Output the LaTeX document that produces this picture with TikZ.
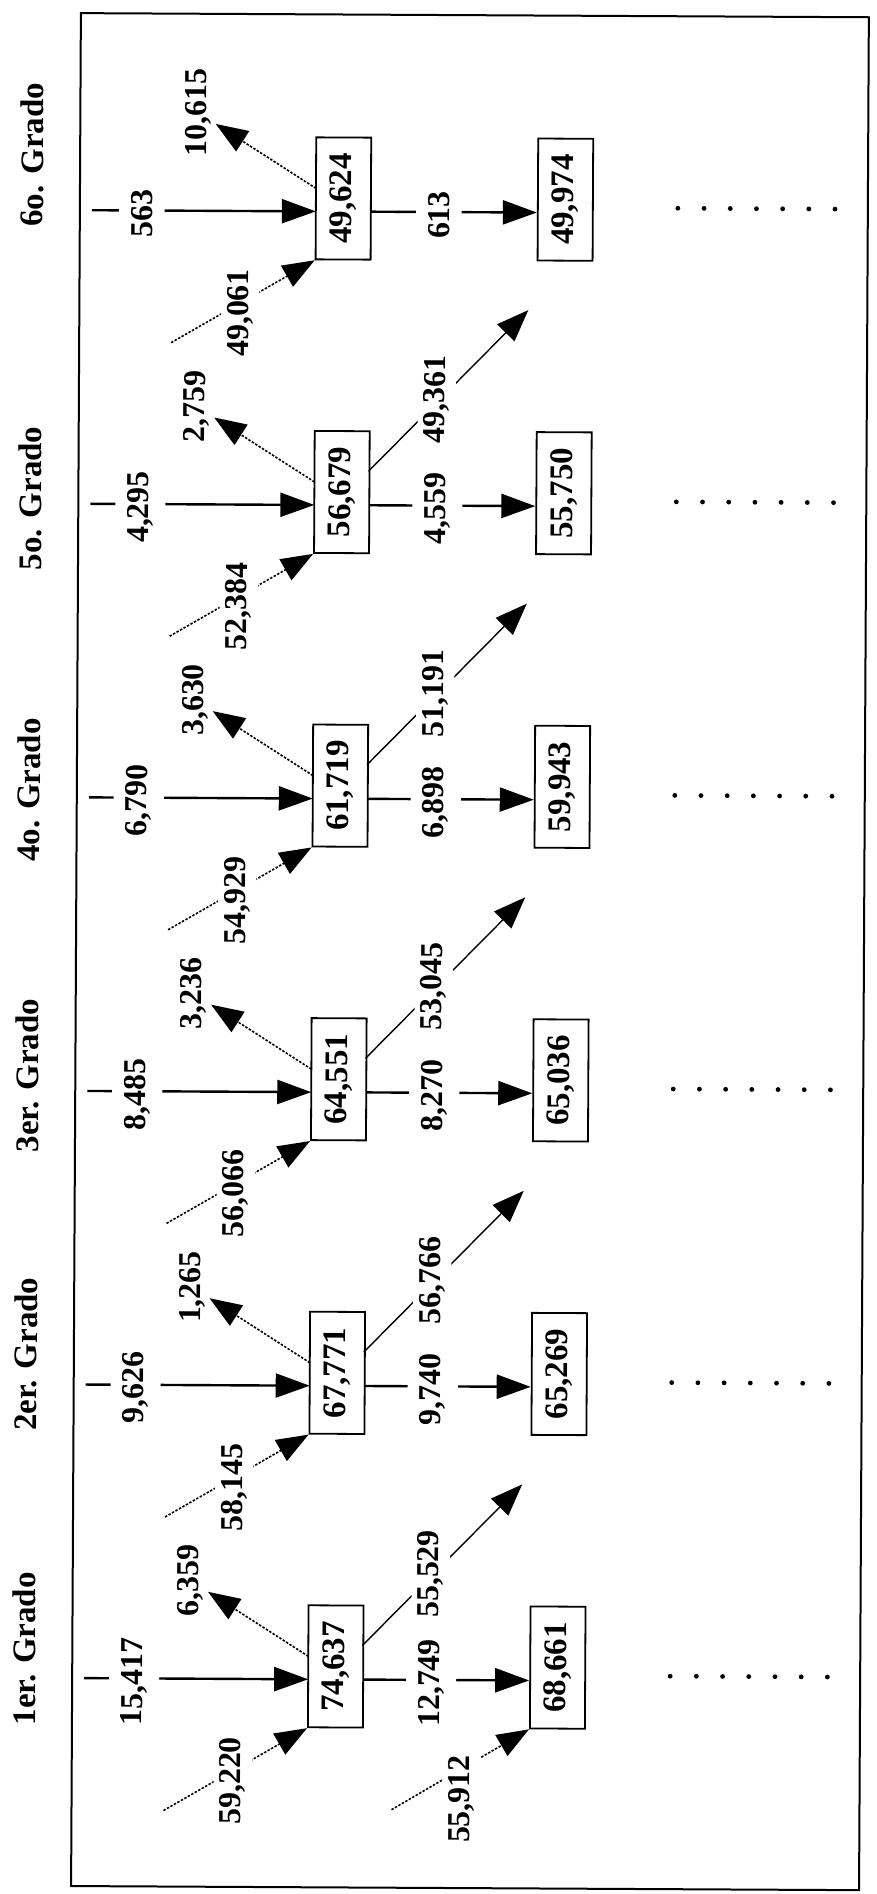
\documentclass[tikz,border=0pt]{standalone}
\usepackage{fontspec}
\setmainfont{Liberation Serif}
\usetikzlibrary{arrows.meta}

\tikzset{
  gradelab/.style={font=\fontsize{16.5}{18}\selectfont\bfseries, inner sep=0pt},
  cell/.style={draw, line width=0.9bp, minimum width=61bp, minimum height=27.5bp,
    inner sep=0pt, font=\fontsize{16.5}{18}\selectfont\bfseries},
  flowlab/.style={font=\fontsize{16}{18}\selectfont\bfseries, fill=white,
    inner xsep=1bp, inner ysep=6bp},
  diaglab/.style={font=\fontsize{16}{18}\selectfont\bfseries, fill=white, inner sep=3bp},
  uplab/.style={font=\fontsize{16}{18}\selectfont\bfseries, inner sep=2bp},
  flowarrow/.style={line width=1.2bp, -{Triangle[length=17bp, width=12bp]}},
  diagarrow/.style={line width=0.8bp, dash pattern=on 1.2bp off 0.8bp,
    -{Triangle[length=16bp, width=12bp]}},
  outarrow/.style={line width=0.7bp, -{Triangle[length=16bp, width=12bp]}},
}

\begin{document}
\begin{tikzpicture}[x=0.5bp, y=0.5bp, rotate=90, transform shape]
  \useasboundingbox (0,0) rectangle (1894,876);
  \begin{scope}[rotate around={-0.3:(947,438)}]
    % Frame
    \draw[line width=1bp] (6,12) rectangle (1879,800);

    % One column per grade
    \foreach \k/\g/\o/\a/\b/\c/\d/\e/\f/\h in {
      1/1er/29/{15,417}/{74,637}/{6,359}/{59,220}/{12,749}/{55,529}/{68,661},
      2/2er/30/{9,626}/{67,771}/{1,265}/{58,145}/{9,740}/{56,766}/{65,269},
      3/3er/15/{8,485}/{64,551}/{3,236}/{56,066}/{8,270}/{53,045}/{65,036},
      4/4o/7/{6,790}/{61,719}/{3,630}/{54,929}/{6,898}/{51,191}/{59,943},
      5/5o/5/{4,295}/{56,679}/{2,759}/{52,384}/{4,559}/{49,361}/{55,750},
      6/6o/55/563/{49,624}/{10,615}/{49,061}/613/{}/{49,974}} {
      \pgfmathsetmacro{\u}{214+293.6*(\k-1)}

      % Grade title
      \node[gradelab] (g\k) at (\u+\o,848) {\g. Grado};

      % Boxes
      \node[cell] (b\k) at (\u+13,536.5) {\b};
      \node[cell] (c\k) at (\u+13,314.5) {\h};

      % Entering flow
      \coordinate (top\k) at (\u,788);
      \coordinate (hit\k) at (\u,564);
      \draw[flowarrow] (top\k) -- (hit\k);
      \node[flowlab] (m\k) at (\u-3,738) {\a};

      % Flow to next year
      \coordinate (out\k) at (\u,509);
      \coordinate (hitc\k) at (\u,343);
      \draw[flowarrow] (out\k) -- (hitc\k);
      \node[flowlab] (n\k) at (\u-3,441) {\e};

      % Leaving (upper left)
      \coordinate (ul\k) at (\u+23,564);
      \node[uplab] (p\k) at (\u+98,682) {\c};
      \draw[diagarrow] (ul\k) -- (p\k);

      % Coming in (lower left)
      \coordinate (ll\k) at (\u-132,708);
      \draw[diagarrow] (ll\k) -- (b\k.north west);
      \node[diaglab] (q\k) at (\u-102,639) {\d};

      % Passing to next grade
      \ifnum\k<6
        \coordinate (ur\k) at (\u+34,510);
        \coordinate (ue\k) at (\u+196,351);
        \draw[outarrow] (ur\k) -- (ue\k);
        \node[diaglab] (r\k) at (\u+106,442) {\f};
      \fi

      % Dots
      \foreach \i in {0,...,6}
        \fill (\u+5,202-\i*26.2) circle (1.2bp);
    }

    % Extra entry to the second box of the first grade
    \coordinate (lx) at (84,480);
    \draw[diagarrow] (lx) -- (c1.north west);
    \node[diaglab] (qx) at (95,410) {55,912};
  \end{scope}
\end{tikzpicture}
\end{document}
